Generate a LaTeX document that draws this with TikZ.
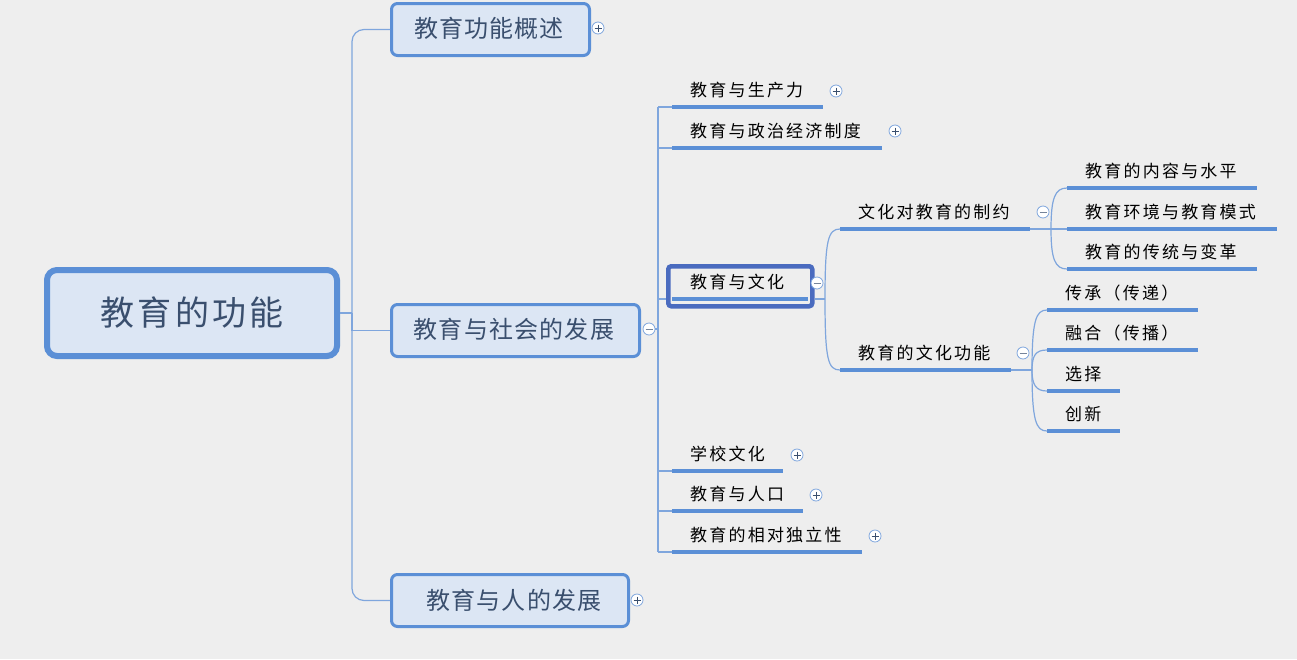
\documentclass[tikz,border=0pt]{standalone}
\usepackage{fontspec}
\newfontfamily\cjk[LetterSpace=5]{Noto Sans CJK SC}
\newfontfamily\cjks[LetterSpace=13]{Noto Sans CJK SC}
\newfontfamily\cjkr[LetterSpace=9]{Noto Sans CJK SC}
\definecolor{bg}{HTML}{EEEEEE}
\definecolor{bd}{HTML}{5B8FD6}
\definecolor{fl}{HTML}{DCE6F4}
\definecolor{cn}{HTML}{7FA6DD}
\definecolor{sel}{HTML}{4A6BBF}
\definecolor{tx}{HTML}{3A4F6E}
\tikzset{
 bigbox/.style={draw=bd,fill=fl,rounded corners=6pt,line width=3pt,anchor=north west,inner sep=0pt},
 bigtxt/.style={font=\cjk\fontsize{24}{28}\selectfont,text=tx},
 lbl/.style={font=\cjks\fontsize{17}{20}\selectfont,anchor=west,inner sep=0pt,text=black},
 uline/.style={draw=bd,line width=3.5pt},
 conn/.style={draw=cn,line width=1.2pt},
 tog/.style={circle,draw=cn,fill=white,minimum size=12pt,inner sep=0pt,line width=0.8pt},
}
\usetikzlibrary{calc}
\newcommand{\plusnode}[3]{\node[tog] (#1) at (#2,#3) {}; \draw[tx,line width=0.8pt] ($(#1)+(-3.5,0)$) -- ($(#1)+(3.5,0)$) ($(#1)+(0,-3.5)$) -- ($(#1)+(0,3.5)$);}
\newcommand{\minusnode}[3]{\node[tog] (#1) at (#2,#3) {}; \draw[tx!70,line width=0.8pt] ($(#1)+(-3.5,0)$) -- ($(#1)+(3.5,0)$);}
\newcommand{\leaf}[5]{\coordinate (#1s) at (#2,#4); \coordinate (#1e) at (#3,#4); \draw[uline] (#1s) -- (#1e); \node[lbl] (#1) at (#2+18,#4-17) {#5};}
\begin{document}
\begin{tikzpicture}[x=1pt,y=-1pt]
\fill[bg] (0,0) rectangle (1297,659);
\useasboundingbox (0,0) rectangle (1297,659);
% root
\node[draw=bd,fill=fl,rounded corners=10pt,line width=6pt,minimum width=290pt,minimum height=86pt,font=\cjkr\fontsize{34}{40}\selectfont,text=tx] (root) at (192,313) {教育的功能};
% level1
\node[bigbox,minimum width=198pt,minimum height=52pt] (a) at (390,2) {};
\node[bigtxt] (at) at (489,28) {教育功能概述};
\node[bigbox,minimum width=248pt,minimum height=52pt] (b) at (390,303) {};
\node[bigtxt] (bt) at (514,329) {教育与社会的发展};
\node[bigbox,minimum width=237pt,minimum height=52pt] (c) at (390,573) {};
\node[bigtxt] (ct) at (514,600) {教育与人的发展};
\coordinate (r1) at (352,313);
\draw[conn] (root.east) -- (r1);
\draw[conn,rounded corners=12pt] (r1) |- (a.west);
\draw[conn] (r1) |- (b.west);
\draw[conn,rounded corners=12pt] (r1) |- (c.west);
\plusnode{pa}{598}{28}
\minusnode{pb}{649}{329}
\plusnode{pc}{637}{600}
% level2
\leaf{s1}{672}{823}{107}{教育与生产力}
\leaf{s2}{672}{882}{148}{教育与政治经济制度}
\leaf{s4}{672}{783}{471}{学校文化}
\leaf{s5}{672}{803}{511}{教育与人口}
\leaf{s6}{672}{862}{552}{教育的相对独立性}
\draw[uline] (672,299) -- (808,299);
\node[draw=sel,line width=4.5pt,rounded corners=3pt,minimum width=144pt,minimum height=40pt,anchor=north west] (s3) at (666,264) {};
\node[lbl] (s3t) at (690,282) {教育与文化};
\coordinate (j2) at (658,329);
\draw[conn] (pb.east) -- (j2);
\draw[conn] (658,107) -- (658,552);
\foreach \n in {s1,s2,s4,s5,s6} \draw[conn] (\n s -| j2) -- (\n s);
\draw[conn] (658,299) -- (666,299);
\plusnode{p1}{836}{91}
\plusnode{p2}{895}{131}
\minusnode{p3}{817}{283}
\plusnode{p4}{797}{455}
\plusnode{p5}{816}{495}
\plusnode{p6}{875}{536}
% level3
\leaf{t1}{840}{1030}{229}{文化对教育的制约}
\leaf{t2}{840}{1011}{370}{教育的文化功能}
\coordinate (j3) at (825,299);
\draw[conn] (s3.east |- j3) -- (j3);
\draw[conn] (j3) .. controls (825,240) and (828,229) .. (t1s);
\draw[conn] (j3) .. controls (825,360) and (828,370) .. (t2s);
\minusnode{q1}{1043}{212}
\minusnode{q2}{1023}{353}
% level4 a
\leaf{u1}{1067}{1257}{188}{教育的内容与水平}
\leaf{u2}{1067}{1277}{229}{教育环境与教育模式}
\leaf{u3}{1067}{1257}{269}{教育的传统与变革}
\coordinate (j4) at (1051,229);
\draw[conn] (t1e) -- (u2s);
\draw[conn] (j4) .. controls (1051,198) and (1055,188) .. (u1s);
\draw[conn] (j4) .. controls (1051,259) and (1055,269) .. (u3s);
% level4 b
\leaf{v1}{1047}{1198}{310}{传承（传递）}
\leaf{v2}{1047}{1198}{350}{融合（传播）}
\leaf{v3}{1047}{1120}{391}{选择}
\leaf{v4}{1047}{1120}{431}{创新}
\coordinate (j5) at (1032,370);
\draw[conn] (t2e) -- (j5);
\draw[conn] (j5) .. controls (1032,320) and (1036,310) .. (v1s);
\draw[conn] (j5) .. controls (1032,355) and (1036,350) .. (v2s);
\draw[conn] (j5) .. controls (1032,385) and (1036,391) .. (v3s);
\draw[conn] (j5) .. controls (1032,421) and (1036,431) .. (v4s);
\end{tikzpicture}
\end{document}
